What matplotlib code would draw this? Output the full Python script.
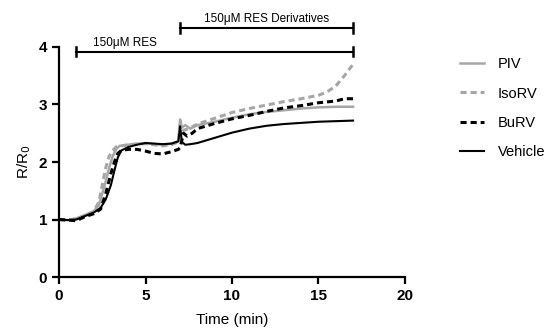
import numpy as np
import matplotlib.pyplot as plt

plt.rcParams['font.family'] = ['Liberation Sans', 'DejaVu Sans']

# time points (min) and ratio values
t_piv = [0, 0.5, 1, 1.5, 2, 2.3, 2.6, 2.9, 3.1, 3.3, 3.5, 3.8, 4.2, 5, 5.5, 6, 6.5, 6.9, 7.0, 7.1, 7.3, 7.6, 8, 9, 10, 11, 12, 13, 14, 15, 16, 17]
piv = [1.0, 0.99, 1.02, 1.08, 1.14, 1.25, 1.55, 1.9, 2.1, 2.22, 2.28, 2.29, 2.31, 2.33, 2.31, 2.3, 2.32, 2.36, 2.74, 2.6, 2.64, 2.58, 2.64, 2.7, 2.77, 2.83, 2.87, 2.9, 2.93, 2.95, 2.96, 2.96]

t_iso = [0, 0.5, 1, 1.5, 2, 2.3, 2.5, 2.7, 2.9, 3.1, 3.3, 3.6, 4, 5, 5.5, 6, 6.5, 6.9, 7.0, 7.2, 7.5, 8, 9, 10, 11, 12, 13, 14, 15, 15.5, 16, 16.5, 17]
iso = [1.0, 0.99, 1.01, 1.07, 1.14, 1.3, 1.6, 1.9, 2.1, 2.2, 2.26, 2.28, 2.3, 2.32, 2.3, 2.28, 2.3, 2.35, 2.65, 2.55, 2.58, 2.66, 2.76, 2.86, 2.93, 2.99, 3.05, 3.1, 3.16, 3.22, 3.32, 3.5, 3.7]

t_bu = [0, 0.5, 1, 1.5, 2, 2.4, 2.7, 3.0, 3.2, 3.4, 3.6, 4, 4.5, 5, 5.5, 6, 6.5, 6.9, 7.0, 7.2, 7.4, 7.7, 8, 9, 10, 11, 12, 13, 14, 15, 16, 16.5, 17]
bu = [1.0, 0.99, 0.98, 1.05, 1.1, 1.18, 1.45, 1.8, 2.0, 2.15, 2.2, 2.22, 2.22, 2.19, 2.15, 2.14, 2.18, 2.22, 2.25, 2.5, 2.45, 2.5, 2.58, 2.67, 2.75, 2.81, 2.88, 2.94, 2.98, 3.03, 3.06, 3.1, 3.1]

t_veh = [0, 0.5, 1, 1.5, 2, 2.4, 2.7, 3.0, 3.2, 3.4, 3.6, 4, 4.5, 5, 5.5, 6, 6.5, 6.9, 7.0, 7.1, 7.3, 7.6, 8, 9, 10, 11, 12, 13, 14, 15, 16, 17]
veh = [1.0, 0.99, 1.0, 1.06, 1.12, 1.2, 1.35, 1.6, 1.85, 2.08, 2.2, 2.26, 2.3, 2.33, 2.32, 2.31, 2.32, 2.36, 2.62, 2.35, 2.3, 2.31, 2.33, 2.42, 2.51, 2.58, 2.63, 2.66, 2.68, 2.7, 2.71, 2.72]

labels = ['PIV', 'IsoRV', 'BuRV', 'Vehicle']

fig = plt.figure(figsize=(5.57, 3.33), dpi=100)
ax = fig.add_axes([0.106, 0.168, 0.621, 0.691])

gray = '#a6a6a6'
ax.plot(t_piv, piv, color=gray, lw=1.8, label=labels[0])
ax.plot(t_iso, iso, color=gray, lw=2.2, dashes=(2, 1.3), label=labels[1])
ax.plot(t_bu, bu, color='black', lw=2.2, dashes=(2, 1.3), label=labels[2])
ax.plot(t_veh, veh, color='black', lw=1.5, label=labels[3])

ax.set_xlim(0, 20)
ax.set_ylim(0, 4)
ax.set_xticks([0, 5, 10, 15, 20])
ax.set_yticks([0, 1, 2, 3, 4])
for s in ['top', 'right']:
    ax.spines[s].set_visible(False)
for s in ['left', 'bottom']:
    ax.spines[s].set_linewidth(1.6)
ax.tick_params(width=1.6, length=5, labelsize=11)
for lab in ax.get_xticklabels() + ax.get_yticklabels():
    lab.set_fontweight('bold')
ax.set_xlabel('Time (min)', fontsize=11, labelpad=7)
ax.set_ylabel('R/R$_0$', fontsize=11, labelpad=4)

# treatment bars
bars = [(1, 17, 3.92, '150μM RES', 3.8), (7, 17, 4.33, '150μM RES Derivatives', 12.0)]
for x0, x1, y, txt, xt in bars:
    ax.plot([x0, x1], [y, y], color='black', lw=1.5, clip_on=False)
    for xe in (x0, x1):
        ax.plot([xe, xe], [y - 0.08, y + 0.08], color='black', lw=1.8, clip_on=False)
    ax.text(xt, y + 0.05, txt, ha='center', va='bottom', fontsize=8.5)

fig.legend(loc='upper left', bbox_to_anchor=(0.812, 0.85), frameon=False,
           fontsize=10.5, handlelength=1.7, handletextpad=0.9, labelspacing=1.05,
           borderpad=0)

fig.savefig('out.png', dpi=100)
